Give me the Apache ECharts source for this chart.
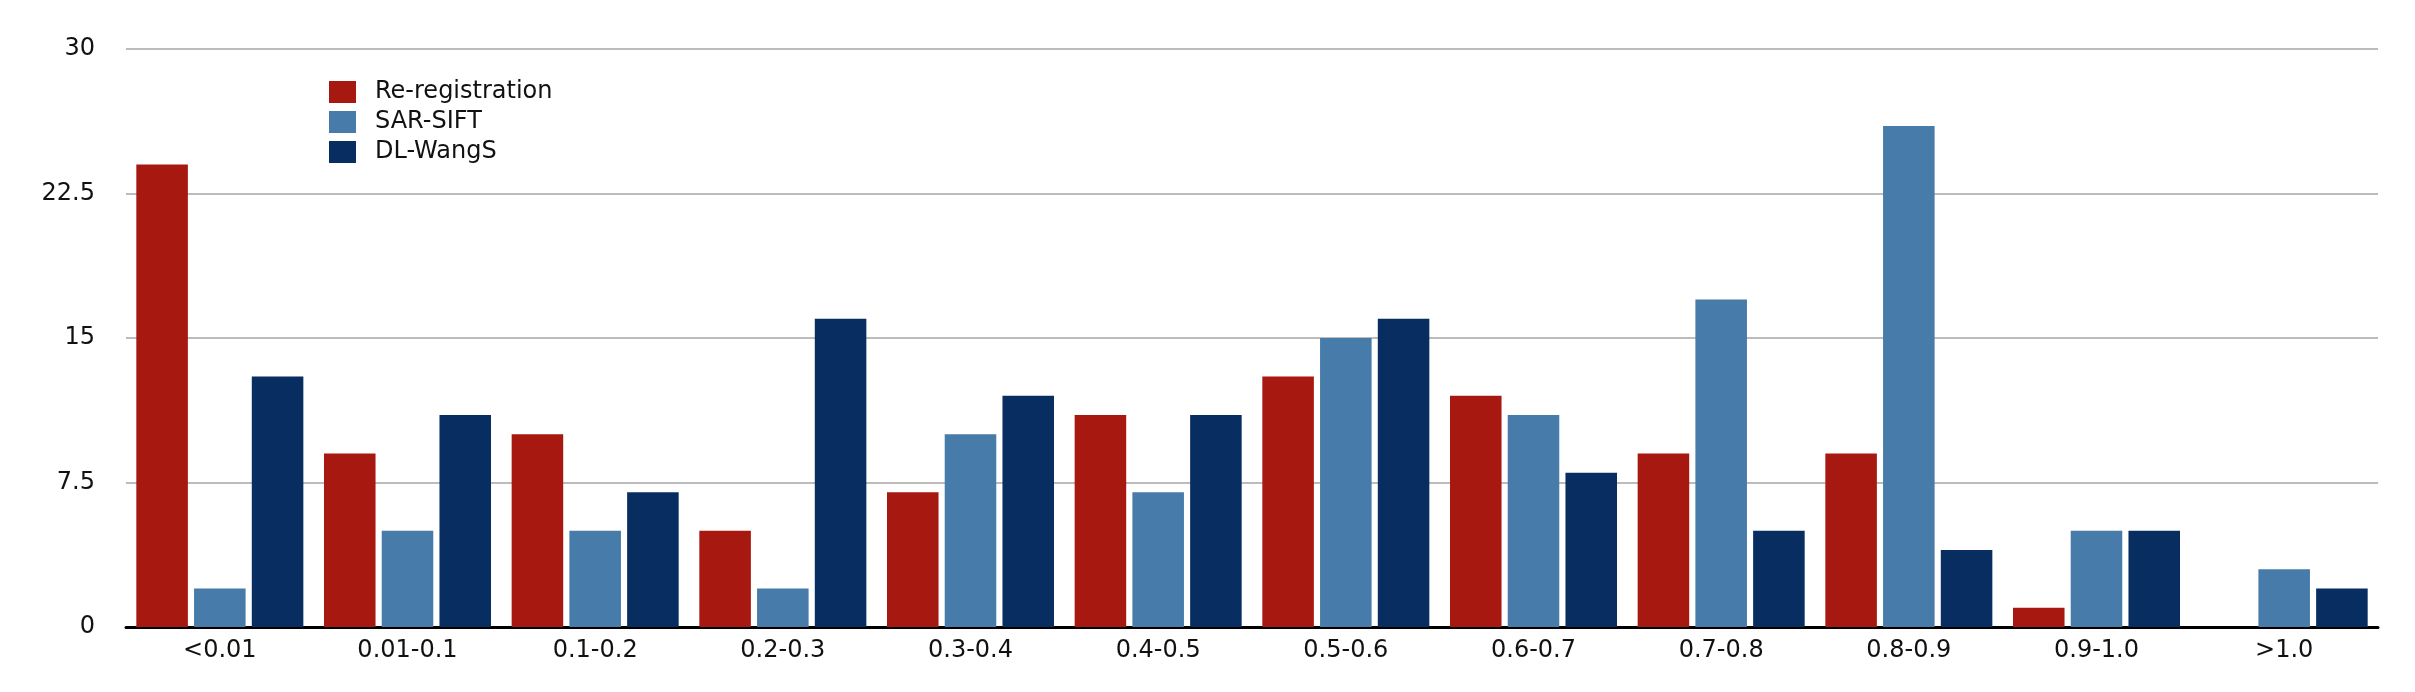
<!DOCTYPE html>
<html lang="en">
<head>
    <meta charset="UTF-8">
    <title>Error distribution</title>
    <script src="https://cdn.jsdelivr.net/npm/echarts@6/dist/echarts.min.js"></script>
    <style>
        html, body { margin: 0; padding: 0; background: #fff; }
        #charts { width: 2415px; height: 692px; }
    </style>
</head>
<body>
<div id="charts"></div>
<script>
    // categories (error ranges)
    var categories = ['<0.01', '0.01-0.1', '0.1-0.2', '0.2-0.3', '0.3-0.4', '0.4-0.5',
        '0.5-0.6', '0.6-0.7', '0.7-0.8', '0.8-0.9', '0.9-1.0', '>1.0'];
    var seriesNames = ['Re-registration', 'SAR-SIFT', 'DL-WangS'];
    var reRegistration = [24, 9, 10, 5, 7, 11, 13, 12, 9, 9, 1, 0];
    var sarSift = [2, 5, 5, 2, 10, 7, 15, 11, 17, 26, 5, 3];
    var dlWangS = [13, 11, 7, 16, 12, 11, 16, 8, 5, 4, 5, 2];
    var yTicks = [0, 7.5, 15, 22.5, 30];

    var colors = ['#a71910', '#477ba9', '#082e61'];
    var font = 'DejaVu Sans';

    var myChart = echarts.init(document.getElementById('charts'));

    function bar(name, data, idx) {
        return {
            name: name,
            type: 'bar',
            data: data,
            barGap: '12%',
            barCategoryGap: '11%',
            itemStyle: { color: colors[idx] },
            animation: false
        };
    }

    var option = {
        animation: false,
        color: colors,
        legend: {
            orient: 'vertical',
            left: 329,
            top: 80,
            padding: 0,
            itemWidth: 27,
            itemHeight: 22,
            itemGap: 6,
            icon: 'rect',
            data: seriesNames,
            textStyle: {
                fontFamily: font,
                fontSize: 24,
                color: '#111',
                padding: [0, 0, 0, 14]
            }
        },
        grid: {
            left: 126,
            right: 37,
            top: 49,
            bottom: 65,
            containLabel: false
        },
        xAxis: {
            type: 'category',
            data: categories,
            axisLine: { lineStyle: { color: '#000', width: 3 } },
            axisTick: { show: false },
            axisLabel: {
                fontFamily: font,
                fontSize: 24,
                color: '#111',
                margin: 12
            }
        },
        yAxis: {
            type: 'value',
            min: yTicks[0],
            max: yTicks[yTicks.length - 1],
            interval: yTicks[1] - yTicks[0],
            axisLine: { show: false },
            axisTick: { show: false },
            splitLine: { lineStyle: { color: '#bcbcbc', width: 2 } },
            axisLabel: {
                fontFamily: font,
                fontSize: 24,
                color: '#111',
                margin: 31
            }
        },
        series: [
            bar(seriesNames[0], reRegistration, 0),
            bar(seriesNames[1], sarSift, 1),
            bar(seriesNames[2], dlWangS, 2)
        ]
    };
    myChart.setOption(option, true);
</script>
</body>
</html>
